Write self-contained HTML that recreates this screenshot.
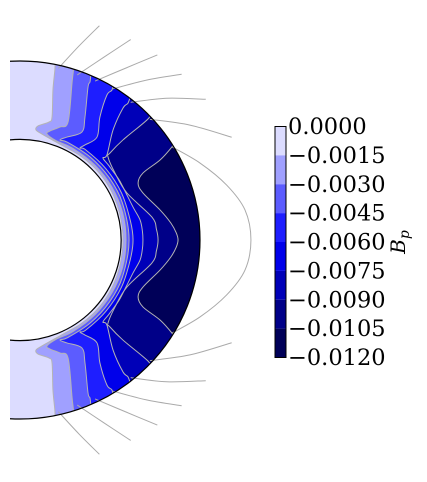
<!DOCTYPE html>
<html><head><meta charset="utf-8">
<style>
html,body{margin:0;padding:0;background:#fff;}
svg{display:block;}
text{font-family:"DejaVu Serif","Liberation Serif",serif;}
</style></head>
<body>
<svg id="chart" width="427" height="482" viewBox="0 0 427 482" xmlns="http://www.w3.org/2000/svg">
<defs>
<clipPath id="plotclip"><rect x="10" y="0" width="260" height="482"/></clipPath>
<clipPath id="annclip"><path id="annclippath" clip-rule="evenodd"/></clipPath>
</defs>
<g id="plot" clip-path="url(#plotclip)">
<g id="fills" clip-path="url(#annclip)"></g>
<g id="clines" clip-path="url(#annclip)"></g>
<g id="flines"></g>
<path id="border" fill="none" stroke="#000" stroke-width="1.2"/>
</g>
<g id="cbar"></g>
<text x="405" y="242" font-size="20" font-style="italic" text-anchor="middle" transform="rotate(-90 405 242)">B<tspan font-size="14" dy="4">p</tspan></text>
</svg>
<script>
// colour levels (data values) and band colours
const levels = [0.0000,-0.0015,-0.0030,-0.0045,-0.0060,-0.0075,-0.0090,-0.0105,-0.0120];
const levelLabels = ["0.0000","\u22120.0015","\u22120.0030","\u22120.0045","\u22120.0060","\u22120.0075","\u22120.0090","\u22120.0105","\u22120.0120"];
const bandColors = ["#dcdcff","#a0a0ff","#5c5cff","#1e1eff","#0000ea","#0000b8","#000088","#000058"];
const innerR = 0.562, outerR = 1.0;
// contour boundaries (upper half, data units; mirrored about equator)
const contourA = [[.194,1.01],[.194,.955],[.183,.838],[.178,.687],[.161,.659],[.1,.637],[.089,.615],[.122,.592],[.235,.528],[.332,.473],[.409,.409],[.473,.332],[.522,.243],[.554,.149],[.570,.050],[.572,0]];
const contourB = [[.3,.972],[.294,.922],[.289,.877],[.267,.659],[.222,.631],[.167,.609],[.15,.592],[.202,.554],[.295,.511],[.417,.417],[.511,.295],[.57,.153],[.589,0]];
const contourC = [[.394,.933],[.389,.883],[.378,.855],[.361,.687],[.344,.603],[.261,.575],[.222,.559],[.266,.545],[.39,.464],[.496,.348],[.569,.207],[.606,0]];
const contourD = [[.517,.883],[.511,.838],[.483,.81],[.444,.687],[.428,.575],[.361,.531],[.333,.514],[.366,.503],[.476,.4],[.564,.263],[.613,.108],[.628,0]];
const contourE = [[.617,.816],[.6,.765],[.572,.737],[.517,.615],[.483,.475],[.461,.458],[.494,.415],[.547,.342],[.572,.296],[.628,.184],[.667,.112],[.68,.05],[.683,0]];
const contourF = [[.722,.715],[.711,.676],[.572,.559],[.5,.486],[.489,.464],[.528,.374],[.594,.263],[.733,.128],[.758,.06],[.767,0]];
const contourG = [[.867,.559],[.844,.52],[.778,.447],[.683,.374],[.656,.318],[.683,.263],[.778,.168],[.838,.095],[.868,.04],[.878,0]];
const contours = [contourA,contourB,contourC,contourD,contourE,contourF,contourG];
// external potential field lines (upper half, mirrored)
const field1 = [[.213,.959],[.328,1.084],[.441,1.197]];
const field2 = [[.318,.922],[.467,1.022],[.615,1.12]];
const field3 = [[.417,.888],[.589,.961],[.763,1.034]];
const field4 = [[.515,.844],[.706,.894],[.898,.926]];
const field5 = [[.615,.769],[.815,.792],[1.032,.786]];
const field6 = [[.722,.674],[.944,.642],[1.176,.574]];
const field7 = [[.843,.521],[1.0,.430],[1.148,.307],[1.25,.168],[1.283,0]];
const fieldLines = [field1,field2,field3,field4,field5,field6,field7];

const NS="http://www.w3.org/2000/svg";
const cx=20, cy=240, sx=180, sy=179;
const X=v=>cx+v*sx, Y=v=>cy-v*sy;
function ellipse(r){return `M${X(r)},${cy} A${r*sx},${r*sy} 0 1 0 ${X(-r)},${cy} A${r*sx},${r*sy} 0 1 0 ${X(r)},${cy} Z`;}
const ann = ellipse(outerR)+" "+ellipse(innerR);
document.getElementById('annclippath').setAttribute('d',ann);
document.getElementById('border').setAttribute('d',ann);
function mirrored(pts){
  const top=pts.slice(); const bot=pts.slice(0,-1).reverse().map(p=>[p[0],-p[1]]);
  return top.concat(bot);
}
function smooth(pts){
  let d=`M${X(pts[0][0])},${Y(pts[0][1])}`;
  for(let i=0;i<pts.length-1;i++){
    const p0=pts[Math.max(i-1,0)],p1=pts[i],p2=pts[i+1],p3=pts[Math.min(i+2,pts.length-1)];
    const c1=[p1[0]+(p2[0]-p0[0])/6,p1[1]+(p2[1]-p0[1])/6];
    const c2=[p2[0]-(p3[0]-p1[0])/6,p2[1]-(p3[1]-p1[1])/6];
    d+=` C${X(c1[0])},${Y(c1[1])} ${X(c2[0])},${Y(c2[1])} ${X(p2[0])},${Y(p2[1])}`;
  }
  return d;
}
const fills=document.getElementById('fills'), clines=document.getElementById('clines'), flines=document.getElementById('flines');
const base=document.createElementNS(NS,'path');
base.setAttribute('d',ann); base.setAttribute('fill',bandColors[7]); base.setAttribute('fill-rule','evenodd');


fills.appendChild(base);
for(let k=contours.length-1;k>=0;k--){
  const full=mirrored(contours[k]);
  const x0=full[0][0], x1=full[full.length-1][0];
  let d=`M${X(x0)},${Y(1.4)} L`+smooth(full).slice(1)+` L${X(x1)},${Y(-1.4)} L${X(-0.3)},${Y(-1.4)} L${X(-0.3)},${Y(1.4)} Z`;
  const p=document.createElementNS(NS,'path');
  p.setAttribute('d',d); p.setAttribute('fill',bandColors[k]);
  
  
  fills.appendChild(p);
  const l=document.createElementNS(NS,'path');
  l.setAttribute('d',smooth(full)); l.setAttribute('fill','none'); l.setAttribute('stroke','#b4b4b4'); l.setAttribute('stroke-width','1');
  
  
  clines.appendChild(l);
}
fieldLines.forEach((f,i)=>{
  [f, f.map(p=>[p[0],-p[1]])].forEach((pts,j)=>{
    if(i===6 && j===1) return;
    const pp = (i===6) ? f.concat(f.slice(0,-1).reverse().map(p=>[p[0],-p[1]])) : pts;
    const l=document.createElementNS(NS,'path');
    l.setAttribute('d',smooth(pp)); l.setAttribute('fill','none'); l.setAttribute('stroke','#aaaaaa'); l.setAttribute('stroke-width','1');
    
    
    flines.appendChild(l);
  });
});
// colorbar
const cb=document.getElementById('cbar');
const cbX=275, cbW=11, cbTop=126.5, cbBot=357.5;
const cbY=v=>cbTop+(levels[0]-v)/(levels[0]-levels[levels.length-1])*(cbBot-cbTop);
for(let i=0;i<bandColors.length;i++){
  const r=document.createElementNS(NS,'rect');
  r.setAttribute('x',cbX); r.setAttribute('y',cbY(levels[i])); r.setAttribute('width',cbW);
  r.setAttribute('height',cbY(levels[i+1])-cbY(levels[i])); r.setAttribute('fill',bandColors[i]);
  
  
  cb.appendChild(r);
}
const fr=document.createElementNS(NS,'rect');
fr.setAttribute('x',cbX); fr.setAttribute('y',cbTop); fr.setAttribute('width',cbW); fr.setAttribute('height',cbBot-cbTop);
fr.setAttribute('fill','none'); fr.setAttribute('stroke','#000'); fr.setAttribute('stroke-width','1');


cb.appendChild(fr);
levels.forEach((v,i)=>{
  const t=document.createElementNS(NS,'text');
  t.setAttribute('x',288); t.setAttribute('y',cbY(v)+7.5); t.setAttribute('font-size','22.5');
  t.textContent=levelLabels[i];
  
  
  cb.appendChild(t);
});
</script>
</body></html>
